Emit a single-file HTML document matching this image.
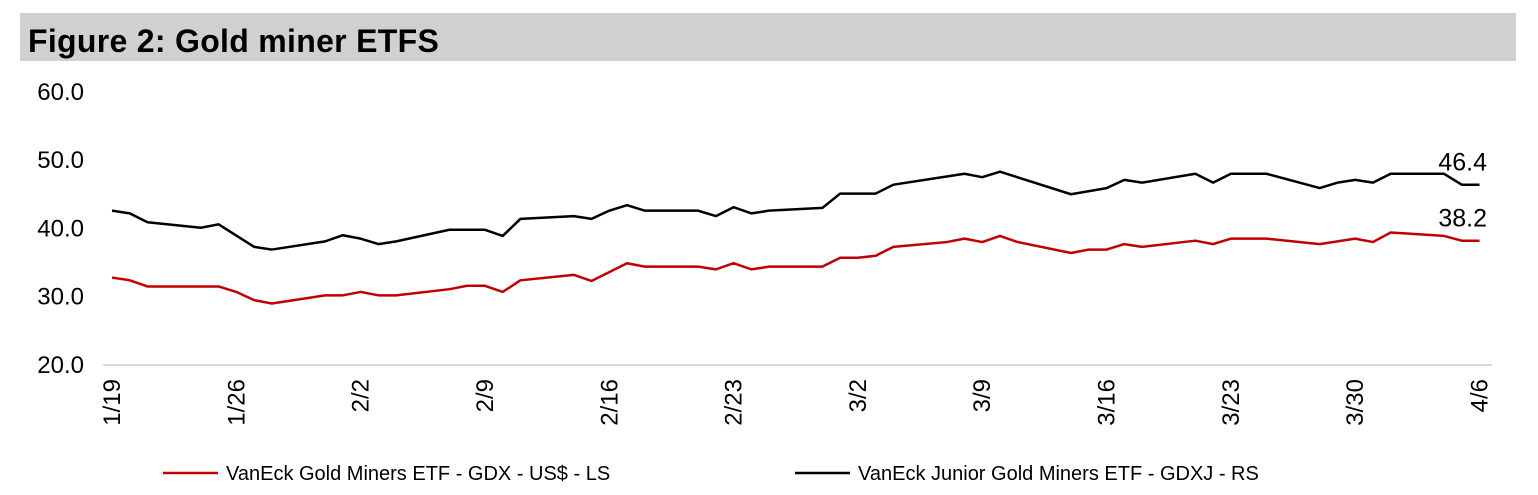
<!DOCTYPE html>
<html><head><meta charset="utf-8"><style>
body{margin:0;width:1538px;height:495px;background:#fff;overflow:hidden;font-family:"Liberation Sans",Arial,sans-serif}
svg{display:block}
</style></head><body>
<svg width="1538" height="495" viewBox="0 0 1538 495">
<rect x="20" y="13" width="1496" height="48" fill="#d1d0d1"/>
<text x="28" y="52" font-size="32" font-weight="bold" letter-spacing="0.3" fill="#000">Figure 2: Gold miner ETFS</text>
<g id="yaxis"></g><g id="xaxis"></g><g id="series"></g>
<line x1="163" y1="473" x2="218" y2="473" stroke="#c00000" stroke-width="2.5"/>
<text x="226" y="480" font-size="20">VanEck Gold Miners ETF  - GDX  - US$ - LS</text>
<line x1="795" y1="473" x2="850" y2="473" stroke="#000" stroke-width="2.5"/>
<text x="858" y="480" font-size="20">VanEck Junior Gold Miners ETF - GDXJ - RS</text>
</svg>
<script>
const yTicks=[20,30,40,50,60];
const xTickDays=[0,7,14,21,28,35,42,49,56,63,70,77];
const xTickLabels=["1/19","1/26","2/2","2/9","2/16","2/23","3/2","3/9","3/16","3/23","3/30","4/6"];
const gdxDays=[0,1,2,6,7,8,9,12,13,14,15,16,19,20,21,22,23,26,27,28,29,30,33,34,35,36,37,40,41,42,43,44,47,48,49,50,51,54,55,56,57,58,61,62,63,65,68,70,71,72,75,76,77];
const gdxVals=[32.8,32.4,31.5,31.5,30.7,29.5,29.0,30.2,30.2,30.7,30.2,30.2,31.1,31.6,31.6,30.7,32.4,33.2,32.3,33.6,34.9,34.4,34.4,34.0,34.9,34.0,34.4,34.4,35.7,35.7,36.0,37.3,38.0,38.5,38.0,38.9,38.0,36.4,36.9,36.9,37.7,37.3,38.2,37.7,38.5,38.5,37.7,38.5,38.0,39.4,38.9,38.2,38.2];
const gdxjDays=[0,1,2,5,6,8,9,12,13,14,15,16,19,21,22,23,26,27,28,29,30,33,34,35,36,37,40,41,43,44,48,49,50,54,56,57,58,61,62,63,65,68,69,70,71,72,75,76,77];
const gdxjVals=[42.6,42.2,40.9,40.1,40.6,37.3,36.9,38.1,39.0,38.5,37.7,38.1,39.8,39.8,38.9,41.4,41.8,41.4,42.6,43.4,42.6,42.6,41.8,43.1,42.2,42.6,43.0,45.1,45.1,46.4,48.0,47.5,48.3,45.0,45.9,47.1,46.7,48.0,46.7,48.0,48.0,45.9,46.7,47.1,46.7,48.0,48.0,46.4,46.4];
const NS="http://www.w3.org/2000/svg";
const X=d=>112+d*17.76, Y=v=>365-(v-20)*6.83;
function mk(t,a,p){const e=document.createElementNS(NS,t);for(const k in a)e.setAttribute(k,a[k]);p.appendChild(e);return e;}
const ya=document.getElementById('yaxis');
yTicks.forEach(v=>{const t=mk('text',{x:84,y:Y(v)+8,'font-size':24,'text-anchor':'end'},ya);t.textContent=v.toFixed(1);

});
const base=mk('line',{x1:103,x2:1492,y1:365,y2:365,stroke:'#d9d9d9','stroke-width':2},ya);


const xa=document.getElementById('xaxis');
xTickDays.forEach((d,i)=>{const t=mk('text',{transform:`translate(${X(d)+8},379) rotate(-90)`,'font-size':24,'text-anchor':'end'},xa);t.textContent=xTickLabels[i];

});
const sg=document.getElementById('series');
function line(days,vals,col,name){const p=mk('polyline',{points:days.map((d,i)=>X(d)+','+Y(vals[i])).join(' '),fill:'none',stroke:col,'stroke-width':2.5,'stroke-linejoin':'round'},sg);


const lv=vals[vals.length-1];const t=mk('text',{x:1487,y:Y(lv)-14,'font-size':25,'text-anchor':'end'},sg);t.textContent=lv.toFixed(1);

}
line(gdxDays,gdxVals,'#c00000','gdx-line');
line(gdxjDays,gdxjVals,'#000','gdxj-line');
</script>
</body></html>
